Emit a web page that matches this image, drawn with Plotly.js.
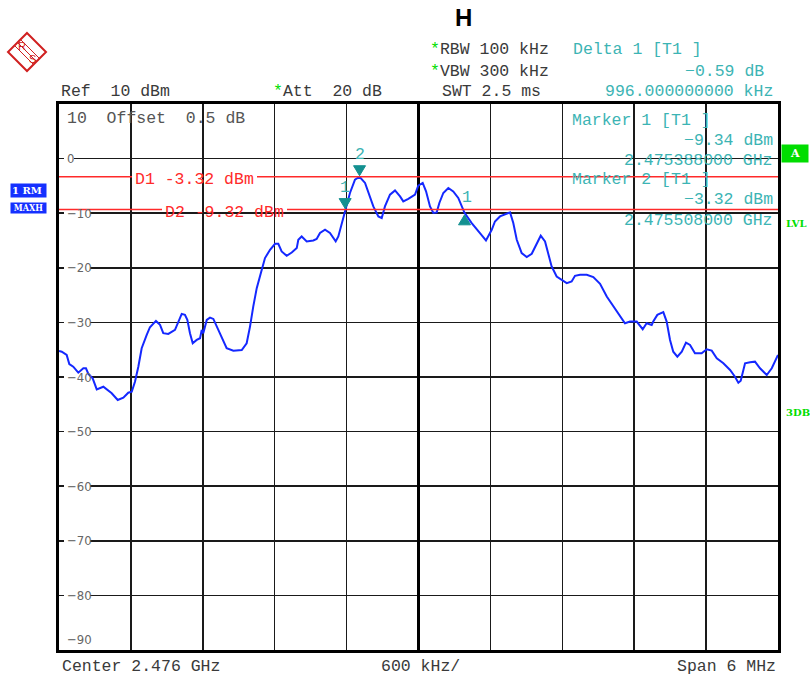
<!DOCTYPE html>
<html>
<head>
<meta charset="utf-8">
<script src="https://cdn.plot.ly/plotly-3.0.1.min.js"></script>
<style>
  html, body { margin: 0; padding: 0; background: #fff; }
  #chart { width: 810px; height: 676px; }
</style>
</head>
<body>
<div id="chart"></div>
<script>
// ---- data (frequency in MHz, level in dBm) ----
const freqMHz = [
  2473.000, 2473.023, 2473.064, 2473.086, 2473.119, 2473.161, 2473.203, 2473.225, 2473.245, 2473.281,
  2473.315, 2473.370, 2473.440, 2473.490, 2473.537, 2473.578, 2473.607, 2473.634, 2473.662, 2473.690,
  2473.732, 2473.759, 2473.809, 2473.843, 2473.870, 2473.912, 2473.968, 2473.996, 2474.024, 2474.051,
  2474.071, 2474.093, 2474.116, 2474.149, 2474.177, 2474.191, 2474.204, 2474.233, 2474.260, 2474.288,
  2474.316, 2474.358, 2474.399, 2474.455, 2474.525, 2474.566, 2474.594, 2474.621, 2474.650, 2474.692,
  2474.719, 2474.761, 2474.803, 2474.830, 2474.858, 2474.900, 2474.942, 2474.984, 2474.997, 2475.025,
  2475.067, 2475.122, 2475.150, 2475.178, 2475.220, 2475.261, 2475.309, 2475.331, 2475.345, 2475.388,
  2475.428, 2475.470, 2475.508, 2475.554, 2475.581, 2475.623, 2475.665, 2475.693, 2475.720, 2475.762,
  2475.804, 2475.846, 2475.873, 2475.915, 2475.971, 2475.998, 2476.035, 2476.063, 2476.096, 2476.124,
  2476.152, 2476.174, 2476.207, 2476.249, 2476.290, 2476.332, 2476.384, 2476.444, 2476.513, 2476.563,
  2476.611, 2476.638, 2476.680, 2476.722, 2476.764, 2476.791, 2476.820, 2476.861, 2476.903, 2476.945,
  2476.986, 2477.020, 2477.056, 2477.083, 2477.111, 2477.153, 2477.195, 2477.237, 2477.278, 2477.306,
  2477.348, 2477.404, 2477.459, 2477.515, 2477.571, 2477.626, 2477.682, 2477.723, 2477.765, 2477.821,
  2477.871, 2477.904, 2477.946, 2477.959, 2477.993, 2478.043, 2478.071, 2478.099, 2478.126, 2478.160,
  2478.197, 2478.232, 2478.266, 2478.307, 2478.363, 2478.405, 2478.447, 2478.489, 2478.544, 2478.600,
  2478.641, 2478.669, 2478.689, 2478.725, 2478.767, 2478.808, 2478.850, 2478.906, 2478.948, 2478.989,
  2479.000
];
const levelDBm = [
  -35.23, -35.36, -35.97, -37.62, -38.11, -39.21, -38.40, -38.40, -39.45, -40.24,
  -42.26, -41.78, -42.99, -44.22, -43.80, -42.88, -42.70, -40.86, -38.11, -34.73,
  -32.29, -30.88, -29.73, -30.46, -31.98, -32.11, -31.38, -29.85, -28.44, -28.62,
  -29.54, -31.98, -33.82, -33.21, -32.90, -31.38, -31.98, -29.54, -29.12, -29.36,
  -30.77, -32.90, -34.73, -35.17, -35.05, -33.82, -30.77, -27.10, -23.73, -20.37,
  -18.22, -16.70, -15.60, -15.60, -17.01, -17.80, -17.19, -16.39, -14.86, -14.26,
  -15.17, -14.99, -14.73, -13.63, -13.03, -13.63, -15.17, -14.26, -13.03, -9.34,
  -6.29, -3.85, -3.32, -4.46, -6.29, -8.75, -10.59, -10.88, -8.75, -6.61,
  -5.82, -6.92, -7.84, -7.39, -6.61, -4.95, -4.46, -6.00, -8.75, -9.96,
  -9.85, -8.13, -6.29, -5.38, -6.00, -7.21, -9.93, -11.80, -13.63, -14.99,
  -13.03, -11.51, -10.59, -10.28, -9.85, -11.80, -14.86, -17.30, -18.04, -17.43,
  -15.47, -14.13, -15.17, -17.61, -19.76, -21.60, -22.20, -22.81, -22.51, -21.47,
  -21.28, -21.28, -21.71, -22.94, -25.27, -27.10, -28.94, -30.15, -29.85, -29.85,
  -31.25, -30.15, -30.46, -29.85, -28.62, -28.13, -29.85, -33.21, -35.36, -36.28,
  -35.36, -33.71, -34.13, -35.65, -35.65, -34.92, -35.17, -36.57, -37.49, -38.72,
  -39.95, -41.05, -40.68, -37.49, -37.30, -37.19, -38.40, -39.63, -38.40, -36.28,
  -35.97
];
// markers
const markerNames = ["1", "2"];
const markerFreq = [2475.388, 2475.508];
const markerLevel = [-9.34, -3.32];
const deltaName = "1";
const deltaFreq = 2476.384;
const deltaLevel = -9.93;
// display lines
const dLineNames = ["D1 -3.32 dBm", "D2 -9.32 dBm"];
const dLineLevels = [-3.32, -9.32];
// axis
const xRange = [2473, 2479];
const yRange = [-90, 10];
const centerFreq = 2476;
const yTickValues = [0, -10, -20, -30, -40, -50, -60, -70, -80, -90];
const yTickLabels = ["0", "\u221210", "\u221220", "\u221230", "\u221240", "\u221250", "\u221260", "\u221270", "\u221280", "\u221290"];

// ---- layout helpers (pixel -> paper) ----
const L = 59, T = 104, W = 719, H = 546;
const px = x => (x - L) / W;
const py = y => (T + H - y) / H;

const FONT = "Liberation Mono, DejaVu Sans Mono, monospace";
const FS = 16.5;
const DARK = "#3a3a3a";
const TEAL = "#3cb4b4";
const MTEAL = "#139090";
const RED = "#ff2a2a";
const GREEN = "#00dd00";

const ann = [];
function txt(text, x, y, anchor, color, size, extra) {
  ann.push(Object.assign({
    text: text, xref: "paper", yref: "paper", x: px(x), y: py(y),
    xanchor: anchor, yanchor: "middle", showarrow: false,
    font: { family: FONT, size: size || FS, color: color || DARK }
  }, extra || {}));
}
const star = "<span style='color:" + GREEN + "'>*</span>";

txt("<b>H</b>", 463, 18, "center", "#000", 24, { font: { family: "Liberation Sans, Arial, sans-serif", size: 24, color: "#000" } });
txt(star + "RBW 100 kHz", 428, 50, "left");
txt(star + "VBW 300 kHz", 428, 71, "left");
txt("Ref  10 dBm", 59, 91, "left");
txt(star + "Att  20 dB", 271, 91, "left");
txt("SWT 2.5 ms", 440, 91, "left");
txt("Delta 1 [T1 ]", 571, 50, "left", TEAL);
txt("\u22120.59 dB", 766, 71, "right", TEAL);
txt("996.000000000 kHz", 775, 91, "right", TEAL);

txt("10  Offset  0.5 dB", 65, 118, "left", "#555");
txt("Marker 1 [T1 ]", 570, 120, "left", TEAL);
txt("\u22129.34 dBm", 775, 140, "right", TEAL);
txt("2.475388000 GHz", 775, 160, "right", TEAL);
txt("Marker 2 [T1 ]", 570, 180, "left", TEAL);
txt("\u22123.32 dBm", 775, 199, "right", TEAL);
txt("2.475508000 GHz", 775, 220, "right", TEAL);

txt("Center 2.476 GHz", 60, 667, "left");
txt("600 kHz/", 420, 667, "center");
txt("Span 6 MHz", 778, 667, "right");

const shapes = [];

// y labels inside plot; a white patch between grid and trace interrupts the grid line
yTickValues.forEach((v, i) => {
  const a = {
    text: yTickLabels[i], xref: "paper", yref: "y", x: 0, y: v, xshift: 6,
    xanchor: "left", yanchor: "middle", showarrow: false,
    font: { family: "DejaVu Sans Condensed, DejaVu Sans, sans-serif", size: 13, color: "#666" }
  };
  if (v === -90) { a.yshift = 11; }
  ann.push(a);
  if (v !== -90) {
    const w = yTickLabels[i].length * 8 + 2;
    shapes.push({ type: "rect", xref: "x", yref: "y", xsizemode: "pixel", ysizemode: "pixel",
      xanchor: xRange[0], yanchor: v, x0: 5, x1: 5 + w, y0: -3, y1: 3,
      fillcolor: "#fff", line: { width: 0 }, layer: "between" });
  }
});

// display line labels
const dLabelX = [133, 163];
const dLabelEnd = [257, 287];
dLineNames.forEach((n, i) => {
  ann.push({
    text: n, xref: "paper", yref: "y", x: px(dLabelX[i]), y: dLineLevels[i], yshift: -3,
    xanchor: "left", yanchor: "middle", showarrow: false,
    font: { family: FONT, size: FS, color: RED }
  });
});

// marker labels
markerNames.forEach((n, i) => {
  ann.push({ text: n, xref: "x", yref: "y", x: markerFreq[i], y: markerLevel[i], yshift: 22,
    showarrow: false, xanchor: "center", yanchor: "middle",
    font: { family: FONT, size: FS, color: TEAL } });
});
ann.push({ text: deltaName, xref: "x", yref: "y", x: deltaFreq, y: deltaLevel, yshift: 15, xshift: 2,
  showarrow: false, xanchor: "center", yanchor: "middle",
  font: { family: FONT, size: FS, color: TEAL } });

// side status boxes
ann.push({ text: "<b>1 RM</b>", xref: "paper", yref: "paper", x: px(10), y: py(190), xanchor: "left", yanchor: "middle",
  showarrow: false, bgcolor: "#1530ff", borderpad: 1, width: 33, align: "left",
  font: { family: "DejaVu Serif", size: 10, color: "#fff" } });
ann.push({ text: "<b>MAXH</b>", xref: "paper", yref: "paper", x: px(10), y: py(208), xanchor: "left", yanchor: "middle",
  showarrow: false, bgcolor: "#1530ff", borderpad: 0, width: 35,
  font: { family: "DejaVu Serif Condensed, DejaVu Serif", size: 9, color: "#fff" } });
ann.push({ text: "<b>A</b>", xref: "paper", yref: "paper", x: px(795), y: py(153), xanchor: "center", yanchor: "middle",
  showarrow: false, bgcolor: GREEN, borderpad: 2, width: 22,
  font: { family: "DejaVu Serif", size: 11, color: "#fff" } });
ann.push({ text: "<b>LVL</b>", xref: "paper", yref: "paper", x: px(784), y: py(223), xanchor: "left", yanchor: "middle",
  showarrow: false, font: { family: "DejaVu Serif", size: 10, color: GREEN } });
ann.push({ text: "<b>3DB</b>", xref: "paper", yref: "paper", x: px(784), y: py(412), xanchor: "left", yanchor: "middle",
  showarrow: false, font: { family: "DejaVu Serif", size: 10, color: GREEN } });

// R&S logo text
ann.push({ text: "R", xref: "paper", yref: "paper", x: px(22), y: py(46), showarrow: false, xanchor: "center", yanchor: "middle",
  font: { family: "Liberation Sans", size: 11, color: "#d02020" } });
ann.push({ text: "S", xref: "paper", yref: "paper", x: px(32), y: py(59), showarrow: false, xanchor: "center", yanchor: "middle",
  font: { family: "Liberation Sans", size: 11, color: "#d02020" } });

// center line thicker
shapes.push({ type: "line", xref: "x", yref: "y", x0: centerFreq, x1: centerFreq, y0: yRange[0], y1: yRange[1],
  line: { color: "#000", width: 3 }, layer: "between" });
// display lines split around labels
dLineLevels.forEach((lv, i) => {
  shapes.push({ type: "line", xref: "paper", yref: "y", x0: 0, x1: px(dLabelX[i] - 1), y0: lv, y1: lv, line: { color: RED, width: 1.5 }, layer: "above" });
  shapes.push({ type: "line", xref: "paper", yref: "y", x0: px(dLabelEnd[i]), x1: 1, y0: lv, y1: lv, line: { color: RED, width: 1.5 }, layer: "above" });
});
// marker triangles, anchored at the marker's data point, sized in pixels
markerFreq.forEach((f, i) => {
  shapes.push({ type: "path", xref: "x", yref: "y", xsizemode: "pixel", ysizemode: "pixel",
    xanchor: f, yanchor: markerLevel[i], path: "M-6,11 L6,11 L0,1 Z",
    fillcolor: MTEAL, line: { color: MTEAL, width: 1 }, layer: "above" });
});
shapes.push({ type: "path", xref: "x", yref: "y", xsizemode: "pixel", ysizemode: "pixel",
  xanchor: deltaFreq, yanchor: deltaLevel, path: "M-6,-12 L6,-12 L0,-2 Z",
  fillcolor: MTEAL, line: { color: MTEAL, width: 1 }, layer: "above" });
// logo diamond
function P(x, y) { return px(x).toFixed(5) + "," + py(y).toFixed(5); }
shapes.push({ type: "path", xref: "paper", yref: "paper",
  path: "M" + P(27, 33) + " L" + P(46, 52) + " L" + P(27, 71) + " L" + P(8, 52) + " Z",
  line: { color: "#d02020", width: 2 } });
[-3, 0, 3].forEach(d => {
  shapes.push({ type: "line", xref: "paper", yref: "paper",
    x0: px(18 + d), y0: py(43 - d), x1: px(36 + d), y1: py(61 - d), line: { color: "#d02020", width: 1 } });
});

const traces = [{
  x: freqMHz, y: levelDBm, type: "scatter", mode: "lines",
  line: { color: "#1428ff", width: 2 }, hoverinfo: "skip"
}];

const layout = {
  width: 810, height: 676,
  margin: { l: L, r: 810 - L - W, t: T, b: 676 - T - H, pad: 0 },
  paper_bgcolor: "#fff", plot_bgcolor: "#fff",
  showlegend: false,
  xaxis: {
    range: xRange, tick0: xRange[0], dtick: 0.6, showticklabels: false, ticks: "",
    showgrid: true, gridcolor: "#1a1a1a", gridwidth: 1.5, zeroline: false,
    showline: true, mirror: true, linecolor: "#000", linewidth: 3, fixedrange: true
  },
  yaxis: {
    range: yRange, tick0: 0, dtick: 10, showticklabels: false, ticks: "",
    showgrid: true, gridcolor: "#1a1a1a", gridwidth: 1.5, zeroline: false,
    showline: true, mirror: true, linecolor: "#000", linewidth: 3, fixedrange: true
  },
  annotations: ann,
  shapes: shapes
};

Plotly.newPlot("chart", traces, layout, { displayModeBar: false, staticPlot: true });
</script>
</body>
</html>
